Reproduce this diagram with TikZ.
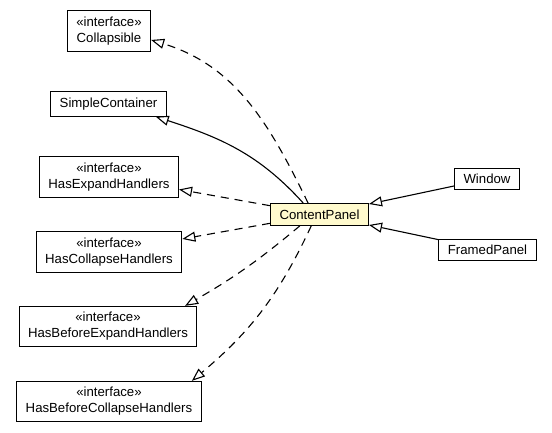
\documentclass[tikz,border=0pt]{standalone}
\usepackage{fontspec}
\setmainfont{Liberation Sans}
\usetikzlibrary{arrows.meta,positioning}
\definecolor{chiffon}{HTML}{FFFACD}
\begin{document}
\begin{tikzpicture}[x=1pt, y=1pt,
	cls/.style={draw, line width=1pt, inner xsep=9pt, inner ysep=6pt, align=center, font=\fontsize{13.2}{16}\selectfont},
	gen/.style={line width=1.1pt, -{Triangle[open, length=13pt, width=10pt]}},
	real/.style={gen, dash pattern=on 8pt off 6pt}]
				\useasboundingbox (0,0) rectangle (552,-432);
				\node[cls] (collapsible) at (109,-31) {«interface»\\Collapsible};
				\node[cls] (simple) at (108.5,-104) {SimpleContainer};
				\node[cls] (hexp) at (109,-177) {«interface»\\HasExpandHandlers};
				\node[cls] (hcol) at (109,-252) {«interface»\\HasCollapseHandlers};
				\node[cls] (hbexp) at (108,-326.5) {«interface»\\HasBeforeExpandHandlers};
				\node[cls] (hbcol) at (109,-401.5) {«interface»\\HasBeforeCollapseHandlers};
				\node[cls, fill=chiffon] (cp) at (319.5,-214.5) {ContentPanel};
				\node[cls] (window) at (487,-179) {Window};
				\node[cls] (framed) at (487.5,-250) {FramedPanel};
				\draw[real] (cp.135) to[out=116, in=-17] (collapsible.-12);
				\draw[gen] (cp.145) to[out=132, in=-18] (simple.-15);
				\draw[real] (cp) -- (hexp);
				\draw[real] (cp) -- (hcol);
				\draw[real] (cp.210) to[out=220, in=30] (hbexp.15);
				\draw[real] (cp.234) to[out=245, in=40] (hbcol.14);
				\draw[gen] (window) -- (cp);
				\draw[gen] (framed) -- (cp);
\end{tikzpicture}
\end{document}
